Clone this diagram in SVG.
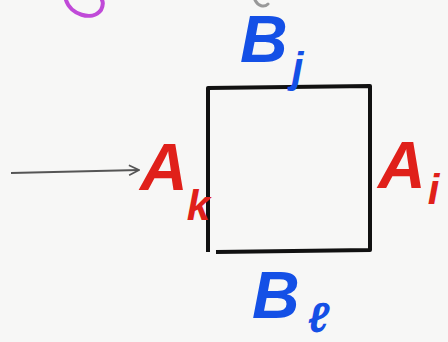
<svg xmlns="http://www.w3.org/2000/svg" width="448" height="342" viewBox="0 0 448 342">
<style>
.lbl{font-family:"Liberation Sans",Arial,sans-serif;font-weight:bold;font-style:italic;font-size:66px}
.blue{fill:#1450e6}
.red{fill:#e0201a}
.sub{font-size:42px}
</style>
<defs>
<marker id="arr" viewBox="0 0 12 12" refX="11" refY="6" markerWidth="12" markerHeight="12" markerUnits="userSpaceOnUse" orient="auto">
<path d="M1,1 L11,6 L1,11" fill="none" stroke="#555" stroke-width="1.6"/>
</marker>
</defs>
<rect width="448" height="342" fill="#f7f7f6"/>
<g id="scribbles">
<path d="M66,0 C70,14 92,22 101,10 C103,6 103,2 102,0" fill="none" stroke="#c04ad8" stroke-width="4" stroke-linecap="round"/>
<path d="M255,0 C258,6 264,8 268,4" fill="none" stroke="#999" stroke-width="3" stroke-linecap="round"/>
</g>
<g id="box">
<path d="M208,252 L208,88 L370,86 L370,250 L216,252" fill="none" stroke="#111" stroke-width="4" stroke-linejoin="round"/>
</g>
<g id="label-Bj">
<text class="lbl blue" x="240" y="62">B<tspan class="sub" dx="4" dy="20">j</tspan></text>
</g>
<g id="label-Bl">
<text class="lbl blue" x="252" y="318">B<tspan class="sub" dx="8" dy="14">ℓ</tspan></text>
</g>
<g id="label-Ak">
<text class="lbl red" x="140" y="190">A<tspan class="sub" dx="-1" dy="30">k</tspan></text>
</g>
<g id="label-Ai">
<text class="lbl red" x="378" y="188">A<tspan class="sub" dx="2" dy="16">i</tspan></text>
</g>
<g id="connectors">
<path d="M11,173 L139,170" fill="none" stroke="#555" stroke-width="2" marker-end="url(#arr)"/>
</g>
</svg>
